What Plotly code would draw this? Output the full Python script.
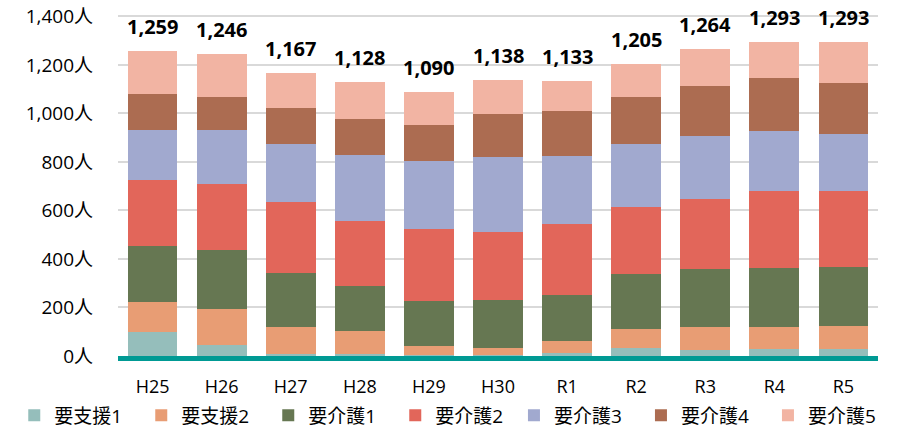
import plotly.graph_objects as go

categories = ["H25", "H26", "H27", "H28", "H29", "H30", "R1", "R2", "R3", "R4", "R5"]
series_names = ["要支援1", "要支援2", "要介護1", "要介護2", "要介護3", "要介護4", "要介護5"]

shien1 = [98, 45, 10, 10, 5, 5, 11, 34, 25, 28, 28]
shien2 = [123, 148, 111, 94, 37, 29, 52, 76, 93, 90, 97]
kaigo1 = [233, 246, 222, 185, 184, 196, 187, 230, 239, 243, 242]
kaigo2 = [270, 269, 292, 267, 299, 282, 296, 274, 292, 318, 315]
kaigo3 = [206, 222, 240, 274, 277, 308, 278, 261, 260, 248, 234]
kaigo4 = [151, 137, 147, 148, 149, 179, 188, 192, 206, 220, 209]
kaigo5 = [178, 179, 145, 150, 139, 139, 121, 138, 149, 146, 168]
totals = [1259, 1246, 1167, 1128, 1090, 1138, 1133, 1205, 1264, 1293, 1293]

y_ticks = [0, 200, 400, 600, 800, 1000, 1200, 1400]
y_tick_labels = ["0人", "200人", "400人", "600人", "800人", "1,000人", "1,200人", "1,400人"]

series_values = [shien1, shien2, kaigo1, kaigo2, kaigo3, kaigo4, kaigo5]
colors = ["#95BEBB", "#E89D74", "#667752", "#E2665A", "#A1A9CF", "#AC6C51", "#F2B4A3"]
legend_ids = ["legend", "legend", "legend", "legend", "legend2", "legend2", "legend2"]

font_family = "Open Sans, Noto Sans CJK JP, sans-serif"
legend_font = dict(size=19, family=font_family, color="#000000")

fig = go.Figure()
for name, vals, col, lg in zip(series_names, series_values, colors, legend_ids):
    fig.add_trace(go.Bar(
        x=categories, y=vals, name=name,
        marker=dict(color=col, line=dict(width=0)),
        legend=lg,
        hoverinfo="x+y+name",
    ))

for c, t in zip(categories, totals):
    fig.add_annotation(
        x=c, y=t, text=f"{t:,}", showarrow=False,
        yanchor="bottom", yshift=9,
        font=dict(family=font_family, size=20, color="#000000", weight="bold"),
    )

legend_common = dict(
    orientation="h",
    y=-0.174, yanchor="middle",
    traceorder="normal",
    font=legend_font,
    entrywidth=82, entrywidthmode="pixels",
    itemwidth=30,
    bgcolor="rgba(0,0,0,0)",
)

fig.update_layout(
    barmode="stack",
    bargap=0.28,
    width=911, height=429,
    margin=dict(l=118, r=33, t=14, b=73, autoexpand=False),
    paper_bgcolor="white",
    plot_bgcolor="white",
    font=dict(family=font_family, size=18, color="#000000"),
    showlegend=True,
    legend=dict(x=-0.1365, xanchor="left", **legend_common),
    legend2=dict(x=0.521, xanchor="left", **legend_common),
)

fig.update_xaxes(
    showgrid=False,
    showline=True, linecolor="#009A94", linewidth=5,
    ticks="", tickfont=dict(size=18),
    ticklabelstandoff=10,
    fixedrange=True,
)
fig.update_yaxes(
    range=[0, 1410],
    tickmode="array",
    tickvals=y_ticks,
    ticktext=y_tick_labels,
    showgrid=True, gridcolor="#D9D9D9", gridwidth=2,
    zeroline=False, showline=False,
    ticks="", ticklabelstandoff=24,
    tickfont=dict(size=19),
    fixedrange=True,
)

fig.write_html(
    "out.html",
    config={"displayModeBar": False},
    post_script="document.body.style.margin='0';",
)
